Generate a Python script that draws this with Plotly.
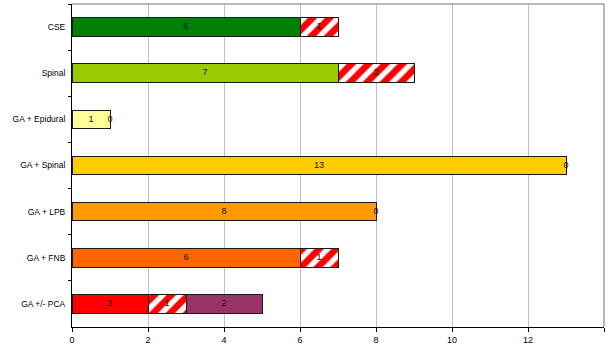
import plotly.graph_objects as go

# Anaesthesia technique categories, top to bottom
categories = ["CSE", "Spinal", "GA + Epidural", "GA + Spinal", "GA + LPB", "GA + FNB", "GA +/- PCA"]

# Stacked segment values per category
first_values = [6, 7, 1, 13, 8, 6, 2]
hatched_values = [1, 2, 0, 0, 0, 1, 1]
third_values = [0, 0, 0, 0, 0, 0, 2]

first_colors = ["#008000", "#99CC00", "#FFFF99", "#FFCC00", "#FF9900", "#FF6600", "#FF0000"]
third_color = "#993366"

x_ticks = [0, 2, 4, 6, 8, 10, 12, 14]

outline = dict(color="#1a1a1a", width=1)

fig = go.Figure()

fig.add_trace(go.Bar(
    y=categories, x=first_values, orientation="h",
    marker=dict(color=first_colors, line=outline),
    hoverinfo="x+y", showlegend=False,
))
fig.add_trace(go.Bar(
    y=categories, x=hatched_values, orientation="h",
    marker=dict(color="white", line=outline,
                pattern=dict(shape="/", fgcolor="#FF0000", bgcolor="white",
                             size=12, solidity=0.55, fgopacity=1, fillmode="overlay")),
    hoverinfo="x+y", showlegend=False,
))
fig.add_trace(go.Bar(
    y=[c for c, v in zip(categories, third_values) if v > 0],
    x=[v for v in third_values if v > 0], orientation="h",
    marker=dict(color=third_color, line=outline),
    hoverinfo="x+y", showlegend=False,
))

# Segment value labels, centred in each segment
lab_x, lab_y, lab_t = [], [], []
for c, a, b, d in zip(categories, first_values, hatched_values, third_values):
    lab_x.append(a / 2); lab_y.append(c); lab_t.append(str(a))
    lab_x.append(a + b / 2); lab_y.append(c); lab_t.append(str(b))
    if d > 0:
        lab_x.append(a + b + d / 2); lab_y.append(c); lab_t.append(str(d))

fig.add_trace(go.Scatter(
    x=lab_x, y=lab_y, text=lab_t, mode="text",
    textfont=dict(family="Liberation Sans, Arial, sans-serif", size=9, color="#111111"),
    hoverinfo="skip", showlegend=False,
))

fig.update_layout(
    barmode="stack",
    bargap=0.6,
    width=608, height=349,
    margin=dict(l=72, r=4, t=4, b=19),
    plot_bgcolor="white", paper_bgcolor="white",
    font=dict(family="Liberation Sans, Arial, sans-serif", size=9, color="#000000"),
    xaxis=dict(
        range=[0, 14], tickvals=x_ticks, ticktext=[str(t) for t in x_ticks],
        showgrid=True, gridcolor="#C0C0C0", gridwidth=1,
        showline=True, linecolor="#000000", linewidth=1,
        ticks="outside", ticklen=4, tickcolor="#000000",
        zeroline=False, fixedrange=True,
    ),
    yaxis=dict(
        categoryorder="array", categoryarray=categories, autorange="reversed",
        showgrid=False, showline=True, linecolor="#000000", linewidth=1,
        ticks="outside", ticklen=3, tickcolor="#000000", tickson="boundaries",
        ticklabelstandoff=4, tickfont=dict(size=8.5), fixedrange=True,
    ),
    shapes=[
        dict(type="line", xref="paper", yref="paper", x0=0, x1=1, y0=1, y1=1,
             line=dict(color="#A0A0A0", width=1.5)),
        dict(type="line", xref="paper", yref="paper", x0=1, x1=1, y0=0, y1=1,
             line=dict(color="#A0A0A0", width=1.5)),
    ],
)

fig.write_html("out.html")
